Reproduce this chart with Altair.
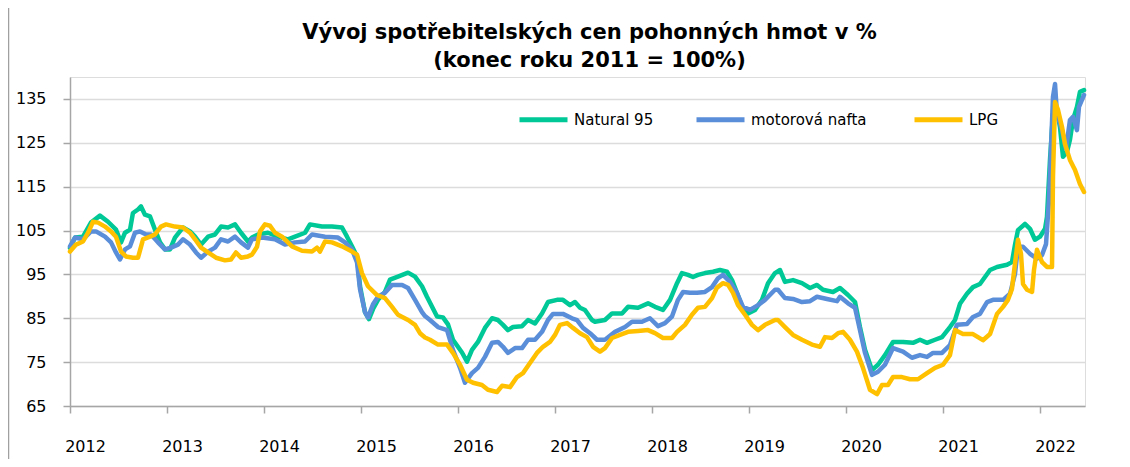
import altair as alt
import pandas as pd

# Series names and colours
series_names = ["Natural 95", "motorová  nafta", "LPG"]
series_colors = ["#00C896", "#5A8ED8", "#FFC000"]

# x = years since start of 2012, y = index (end of 2011 = 100 %)
n95_t = [0, 0.052, 0.134, 0.216, 0.309, 0.392, 0.474, 0.526, 0.567, 0.619, 0.649, 0.701, 0.732, 0.773, 0.825,
         0.876, 0.928, 0.979, 1.031, 1.082, 1.165, 1.237, 1.289, 1.351, 1.423, 1.495, 1.557, 1.629, 1.701, 1.763,
         1.835, 1.876, 1.938, 2.041, 2.144, 2.247, 2.320, 2.423, 2.474, 2.598, 2.701, 2.804, 2.856, 2.907, 2.959,
         2.990, 3.041, 3.082, 3.124, 3.175, 3.247, 3.299, 3.381, 3.485, 3.557, 3.629, 3.680, 3.784, 3.845, 3.897,
         3.948, 4.041, 4.093, 4.144, 4.206, 4.278, 4.351, 4.412, 4.464, 4.515, 4.567, 4.660, 4.722, 4.794, 4.866,
         4.928, 5.021, 5.082, 5.155, 5.206, 5.258, 5.309, 5.381, 5.412, 5.515, 5.588, 5.691, 5.753, 5.856, 5.959,
         6.031, 6.113, 6.186, 6.258, 6.309, 6.371, 6.423, 6.474, 6.546, 6.629, 6.701, 6.773, 6.825, 6.876, 6.928,
         6.990, 7.062, 7.134, 7.196, 7.268, 7.320, 7.371, 7.454, 7.546, 7.629, 7.701, 7.763, 7.866, 7.938, 8.021,
         8.093, 8.144, 8.196, 8.268, 8.330, 8.402, 8.485, 8.588, 8.691, 8.763, 8.835, 8.918, 8.990, 9.072, 9.124,
         9.175, 9.247, 9.309, 9.381, 9.433, 9.485, 9.557, 9.660, 9.711, 9.742, 9.773, 9.845, 9.897, 9.948, 10.000,
         10.052, 10.072, 10.103, 10.134, 10.175, 10.206, 10.237, 10.278, 10.309, 10.340, 10.381, 10.412, 10.454]
n95_v = [101.0, 103.4, 103.6, 106.8, 108.4, 107.0, 105.2, 102.3, 104.5, 105.2, 109.0, 109.8, 110.5, 108.6, 108.2,
         105.2, 102.3, 100.7, 100.7, 103.4, 105.7, 104.8, 103.6, 101.8, 103.6, 104.1, 105.9, 105.7, 106.4, 104.5,
         102.5, 103.4, 104.1, 104.5, 103.6, 103.0, 103.6, 104.5, 106.4, 105.9, 105.9, 105.7, 103.6, 101.4, 99.1,
         92.3, 86.4, 84.8, 87.1, 89.2, 91.0, 93.8, 94.5, 95.4, 94.5, 92.3, 89.9, 85.4, 85.2, 83.6,
         80.1, 77.2, 75.1, 77.8, 79.6, 82.8, 85.0, 84.6, 83.5, 82.3, 83.0, 83.2, 84.6, 83.8, 86.1,
         88.7, 89.2, 89.2, 88.0, 88.7, 87.4, 86.9, 84.6, 84.2, 84.6, 86.1, 86.1, 87.6, 87.4, 88.4,
         87.6, 86.9, 89.2, 93.0, 95.3, 94.9, 94.4, 94.9, 95.3, 95.6, 96.0, 95.6, 93.7, 90.8, 87.6,
         86.1, 86.9, 89.2, 93.0, 95.3, 96.0, 93.3, 93.7, 93.0, 91.9, 92.6, 91.5, 91.0, 91.9, 90.3,
         88.7, 83.0, 77.8, 73.2, 74.4, 76.6, 79.6, 79.6, 79.4, 80.1, 79.4, 80.1, 80.7, 83.0, 84.6,
         88.3, 90.6, 92.1, 92.8, 94.4, 96.0, 96.7, 97.2, 97.8, 101.7, 105.1, 106.5, 105.4, 102.9, 103.6,
         105.4, 108.1, 121.1, 131.6, 132.5, 128.6, 121.8, 122.9, 125.7, 130.2, 133.2, 136.6, 137.0]

nafta_t = [0, 0.052, 0.134, 0.216, 0.268, 0.361, 0.423, 0.474, 0.515, 0.567, 0.619, 0.670, 0.722, 0.784, 0.835,
           0.907, 0.979, 1.041, 1.113, 1.165, 1.237, 1.299, 1.351, 1.423, 1.495, 1.557, 1.629, 1.701, 1.763, 1.835,
           1.876, 1.979, 2.113, 2.216, 2.320, 2.423, 2.495, 2.629, 2.763, 2.835, 2.907, 2.959, 2.990, 3.041, 3.072,
           3.124, 3.175, 3.247, 3.320, 3.423, 3.485, 3.557, 3.629, 3.660, 3.711, 3.794, 3.887, 3.948, 4.021, 4.072,
           4.144, 4.206, 4.278, 4.351, 4.412, 4.464, 4.515, 4.588, 4.660, 4.722, 4.794, 4.866, 4.928, 4.979, 5.082,
           5.175, 5.227, 5.289, 5.361, 5.433, 5.515, 5.619, 5.722, 5.794, 5.897, 5.979, 6.062, 6.134, 6.206, 6.268,
           6.320, 6.392, 6.464, 6.546, 6.619, 6.680, 6.732, 6.804, 6.876, 6.938, 7.010, 7.093, 7.165, 7.268, 7.299,
           7.371, 7.454, 7.546, 7.629, 7.701, 7.804, 7.907, 7.938, 8.021, 8.093, 8.144, 8.196, 8.268, 8.330, 8.402,
           8.485, 8.588, 8.680, 8.763, 8.835, 8.897, 8.990, 9.072, 9.144, 9.247, 9.309, 9.381, 9.454, 9.515, 9.619,
           9.691, 9.742, 9.773, 9.825, 9.897, 9.969, 10.021, 10.062, 10.093, 10.134, 10.155, 10.175, 10.227, 10.268,
           10.309, 10.340, 10.381, 10.402, 10.454]
nafta_v = [101.4, 103.4, 103.0, 104.8, 104.8, 103.6, 102.3, 100.0, 98.4, 100.7, 101.4, 104.5, 104.8, 104.1, 104.1,
           102.3, 100.7, 101.1, 101.8, 103.0, 101.8, 100.0, 98.8, 100.2, 101.1, 103.0, 102.5, 103.6, 102.3, 101.1,
           103.0, 103.4, 103.0, 101.8, 102.3, 102.5, 104.1, 103.6, 103.4, 102.3, 100.7, 97.7, 91.6, 86.4, 85.2,
           88.2, 89.9, 90.8, 92.6, 92.6, 91.9, 89.2, 86.4, 85.5, 84.6, 83.0, 82.3, 77.8, 73.7, 70.3,
           72.5, 73.7, 76.2, 79.4, 79.6, 78.5, 77.1, 78.2, 78.2, 80.1, 80.1, 81.9, 84.6, 86.0, 86.0,
           85.0, 84.6, 82.8, 81.6, 80.1, 80.1, 81.9, 83.0, 84.2, 84.2, 85.0, 83.2, 83.9, 85.4, 89.2,
           91.0, 90.8, 90.8, 91.0, 92.1, 94.1, 94.9, 93.3, 90.8, 87.6, 86.9, 88.0, 89.2, 91.5, 91.5,
           89.6, 89.4, 88.7, 88.9, 89.9, 89.4, 88.9, 89.9, 88.4, 87.4, 82.3, 77.1, 72.1, 72.8, 74.4,
           78.2, 77.4, 76.0, 76.6, 76.2, 77.1, 77.1, 78.9, 83.5, 83.7, 85.3, 86.0, 88.7, 89.2, 89.2,
           90.6, 95.1, 101.3, 101.3, 99.7, 98.6, 99.4, 101.9, 112.0, 135.5, 138.4, 131.6, 127.9, 123.6,
           130.2, 130.9, 127.9, 133.2, 135.9]

lpg_t = [0, 0.062, 0.134, 0.186, 0.237, 0.289, 0.361, 0.423, 0.474, 0.526, 0.577, 0.649, 0.701, 0.753, 0.825,
         0.876, 0.938, 0.990, 1.082, 1.165, 1.237, 1.289, 1.351, 1.423, 1.505, 1.598, 1.660, 1.711, 1.763, 1.835,
         1.876, 1.928, 1.959, 2.010, 2.062, 2.113, 2.186, 2.289, 2.392, 2.495, 2.546, 2.577, 2.629, 2.701, 2.804,
         2.907, 2.959, 3.010, 3.072, 3.165, 3.247, 3.320, 3.381, 3.485, 3.557, 3.608, 3.660, 3.711, 3.794, 3.887,
         3.948, 4.021, 4.093, 4.155, 4.247, 4.309, 4.402, 4.454, 4.536, 4.608, 4.670, 4.742, 4.814, 4.876, 4.948,
         5.000, 5.052, 5.124, 5.186, 5.258, 5.330, 5.392, 5.464, 5.515, 5.588, 5.670, 5.753, 5.856, 5.959, 6.031,
         6.113, 6.206, 6.258, 6.340, 6.412, 6.474, 6.546, 6.619, 6.670, 6.732, 6.784, 6.835, 6.887, 6.959, 7.031,
         7.093, 7.165, 7.268, 7.299, 7.371, 7.454, 7.546, 7.649, 7.732, 7.784, 7.856, 7.918, 7.969, 8.041, 8.113,
         8.175, 8.247, 8.320, 8.371, 8.433, 8.485, 8.577, 8.660, 8.742, 8.835, 8.918, 9.000, 9.072, 9.124, 9.206,
         9.309, 9.412, 9.485, 9.557, 9.619, 9.670, 9.711, 9.742, 9.773, 9.804, 9.825, 9.866, 9.918, 9.938, 9.969,
         10.021, 10.072, 10.124, 10.134, 10.155, 10.186, 10.227, 10.258, 10.309, 10.361, 10.412, 10.454]
lpg_v = [100.2, 101.8, 102.5, 104.5, 107.0, 106.8, 105.9, 104.8, 103.6, 100.2, 99.1, 98.8, 98.8, 103.0, 103.6,
         104.1, 105.9, 106.4, 105.9, 105.7, 104.5, 103.0, 101.1, 100.0, 98.8, 98.2, 98.4, 100.0, 98.8, 99.1,
         99.5, 101.3, 104.8, 106.4, 106.1, 104.5, 103.6, 101.4, 100.4, 100.2, 101.1, 100.2, 102.5, 102.3, 101.4,
         100.2, 99.5, 95.3, 92.3, 90.3, 89.6, 87.6, 85.8, 84.6, 83.5, 81.6, 80.6, 80.1, 79.0, 79.0,
         77.1, 74.4, 71.0, 70.3, 69.8, 68.7, 68.2, 69.6, 69.3, 71.6, 72.5, 74.8, 77.1, 78.5, 79.6,
         81.2, 83.5, 83.9, 82.8, 81.6, 80.7, 78.5, 77.4, 78.2, 80.5, 81.2, 81.9, 82.1, 82.3, 81.6,
         80.5, 80.5, 81.9, 83.5, 85.8, 87.4, 87.6, 89.6, 92.0, 93.0, 92.6, 90.8, 88.0, 85.8, 83.5,
         82.3, 83.5, 84.6, 84.6, 83.0, 81.2, 80.1, 79.0, 78.5, 80.7, 80.5, 81.6, 81.9, 80.1, 77.4,
         73.7, 68.7, 67.7, 69.8, 69.8, 71.6, 71.6, 71.1, 71.1, 72.5, 73.7, 74.4, 76.6, 82.3, 81.4,
         81.4, 80.0, 81.4, 86.0, 87.6, 89.2, 91.7, 97.4, 102.9, 99.7, 92.8, 91.5, 91.0, 96.0, 100.6,
         97.8, 96.7, 96.7, 117.2, 134.3, 132.5, 128.6, 124.7, 121.1, 118.8, 115.6, 113.8]

year_ticks = list(range(2012, 2023))
y_ticks = [65, 75, 85, 95, 105, 115, 125, 135]
title_lines = ["Vývoj spotřebitelských cen pohonných hmot v %", "(konec roku 2011 = 100%)"]

frames = []
for name, ts, vs in [(series_names[0], n95_t, n95_v),
                     (series_names[1], nafta_t, nafta_v),
                     (series_names[2], lpg_t, lpg_v)]:
    frames.append(pd.DataFrame({"year": [2012 + t for t in ts], "value": vs, "series": name}))
df = pd.concat(frames, ignore_index=True)

FONT = "DejaVu Sans"

x_enc = alt.X("year:Q",
              scale=alt.Scale(domain=[2012, 2022.464], nice=False, zero=False),
              axis=alt.Axis(values=year_ticks, format="d", title=None, grid=False,
                            labelOffset=15, labelPadding=25, tickSize=7, labelFlush=False,
                            labelOverlap=False, labelFontSize=16, labelFont=FONT,
                            labelColor="black", domainColor="#a6a6a6", tickColor="#a6a6a6",
                            domainWidth=1.5, tickWidth=1.5))
y_enc = alt.Y("value:Q",
              scale=alt.Scale(domain=[65, 140], nice=False, zero=False),
              axis=alt.Axis(values=y_ticks, title=None, tickSize=7, labelPadding=17,
                            labelFontSize=16, labelFont=FONT, labelColor="black",
                            domainColor="#a6a6a6", tickColor="#a6a6a6", domainWidth=1.5,
                            tickWidth=1.5, gridColor="#dcdcdc", gridWidth=1.5))
color_enc = alt.Color("series:N",
                      scale=alt.Scale(domain=series_names, range=series_colors),
                      legend=alt.Legend(orient="none", legendX=447, legendY=16,
                                        direction="horizontal", title=None,
                                        symbolType="stroke", symbolSize=2304,
                                        symbolStrokeWidth=5, labelFontSize=15,
                                        labelFont=FONT, labelColor="black",
                                        columnPadding=32, labelOffset=4))

layers = []
for name in series_names:
    layers.append(
        alt.Chart(df).transform_filter(alt.datum.series == name)
        .mark_line(strokeWidth=4.5, strokeCap="round", strokeJoin="round")
        .encode(x=x_enc, y=y_enc, color=color_enc)
    )

frame_rule = alt.Chart(pd.DataFrame({"a": [0]})).mark_rule(color="#a0a0a0", strokeWidth=1.5).encode(
    x=alt.value(-61.5), y=alt.value(-69), y2=alt.value(382))

chart = alt.layer(*layers, frame_rule).properties(
    width=1015, height=329,
    autosize=alt.AutoSizeParams(type="none"),
    padding={"left": 62, "top": 69, "right": 37, "bottom": 53},
    title=alt.TitleParams(text=title_lines, font=FONT, fontSize=21, fontWeight="bold",
                          color="black", anchor="middle", dx=12, offset=-64, lineHeight=28),
).configure_view(stroke="#d9d9d9", strokeWidth=1.5).configure(background="white")

chart.save("out.html", embed_options={"renderer": "svg", "actions": False})
